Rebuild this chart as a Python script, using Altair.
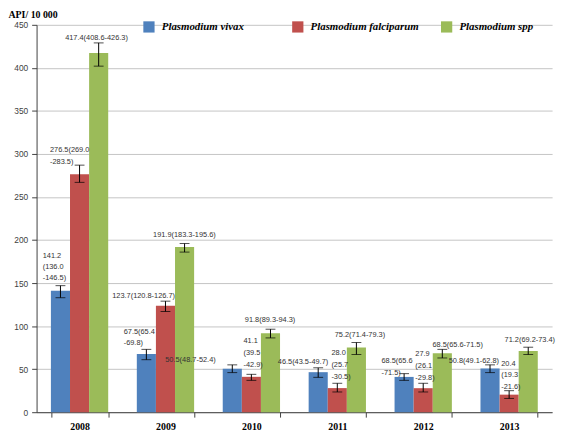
import altair as alt
import pandas as pd

years = ["2008", "2009", "2010", "2011", "2012", "2013"]
series = ["Plasmodium vivax", "Plasmodium falciparum", "Plasmodium spp"]
colors = ["#4F81BD", "#C0504D", "#9BBB59"]

vivax = [141.2, 67.5, 50.5, 46.5, 41.0, 50.8]
falciparum = [276.5, 123.7, 41.1, 28.0, 27.9, 20.4]
spp = [417.4, 191.9, 91.8, 75.2, 68.5, 71.2]

vivax_lo = [133.0, 61.0, 46.0, 40.5, 37.0, 46.0]
vivax_hi = [147.0, 73.0, 55.0, 51.6, 44.8, 55.0]
falciparum_lo = [267.0, 117.0, 37.0, 23.5, 23.5, 16.0]
falciparum_hi = [287.0, 129.0, 44.0, 33.6, 33.6, 25.0]
spp_lo = [402.0, 186.0, 86.3, 67.0, 63.0, 67.0]
spp_hi = [429.0, 196.0, 96.4, 81.0, 73.0, 75.5]

vivax_labels = ["141.2\n(136.0\n-146.5)", "67.5(65.4\n-69.8)", "50.5(48.7-52.4)",
                "46.5(43.5-49.7)", "68.5(65.6\n-71.5)", "50.8(49.1-62.8)"]
falciparum_labels = ["276.5(269.0\n-283.5)", "123.7(120.8-126.7)", "41.1\n(39.5\n-42.9)",
                     "28.0\n(25.7\n-30.5)", "27.9\n(26.1\n-29.8)", "20.4\n(19.3\n-21.6)"]
spp_labels = ["417.4(408.6-426.3)", "191.9(183.3-195.6)", "91.8(89.3-94.3)",
              "75.2(71.4-79.3)", "68.5(65.6-71.5)", "71.2(69.2-73.4)"]

# label placement (styling): dx from bar centre, dy of first line from error-bar top, line height
vivax_off = [(-18, -31, 11.5), (-23, -18, 11), (-68, -5, 11), (-41, -6, 11), (-23, -13, 12), (-42, -4, 11)]
falciparum_off = [(-30, -16, 12), (-54, -6, 11), (-8, -34, 12), (-6, -31, 12), (-8, -30, 12), (-8, -28, 12)]
spp_off = [(-34, -5, 11), (-32, -9, 11), (-26, -10, 11), (-22, -8, 11), (-10, -5, 11), (-24, -8, 11)]

rows = []
for s, vals, los, his, labs, offs in [
    (series[0], vivax, vivax_lo, vivax_hi, vivax_labels, vivax_off),
    (series[1], falciparum, falciparum_lo, falciparum_hi, falciparum_labels, falciparum_off),
    (series[2], spp, spp_lo, spp_hi, spp_labels, spp_off),
]:
    for i, yr in enumerate(years):
        rows.append(dict(year=yr, series=s, value=vals[i], lo=los[i], hi=his[i],
                         label=labs[i], dx=offs[i][0], dy=offs[i][1], lh=offs[i][2]))
df = pd.DataFrame(rows)

FONT_SANS = "Liberation Sans"

x_enc = alt.X("year:N", sort=years,
              scale=alt.Scale(paddingInner=0.333, paddingOuter=0.1667),
              axis=alt.Axis(title=None, labelAngle=0, labelFont="Liberation Serif",
                            labelFontWeight="bold", labelFontSize=10, labelColor="black",
                            tickBand="extent", tickSize=5, tickColor="#404040",
                            domainColor="#404040", labelPadding=5))
xo_enc = alt.XOffset("series:N", sort=series, scale=alt.Scale(paddingInner=0, paddingOuter=0))
y_scale = alt.Scale(domain=[0, 450], nice=False)

base = alt.Chart(df)

bars = base.mark_bar().encode(
    x=x_enc,
    xOffset=xo_enc,
    y=alt.Y("value:Q", scale=y_scale,
            axis=alt.Axis(values=list(range(0, 451, 50)), title="API/ 10 000",
                          titleAngle=0, titleAlign="left", titleBaseline="alphabetic",
                          titleX=-29, titleY=-7, titleFont="Liberation Serif",
                          titleFontWeight="bold", titleFontSize=10, titleColor="black",
                          labelFont=FONT_SANS, labelFontSize=8.5, labelColor="#404040",
                          tickSize=5, tickColor="#404040", domainColor="#404040",
                          gridColor="#c4c4c4", labelPadding=4)),
    color=alt.Color("series:N", sort=series,
                    scale=alt.Scale(domain=series, range=colors),
                    legend=alt.Legend(orient="none", legendX=108, legendY=-4,
                                      direction="horizontal", title=None,
                                      symbolType="square", symbolSize=130,
                                      symbolStrokeWidth=0, labelFont="Liberation Serif",
                                      labelFontStyle="italic", labelFontWeight="bold",
                                      labelFontSize=11, labelColor="black",
                                      columnPadding=22, labelOffset=7, gridAlign="all",
                                      padding=0)),
)

rules = base.mark_rule(color="black", strokeWidth=1).encode(
    x=x_enc, xOffset=xo_enc, y=alt.Y("lo:Q", scale=y_scale), y2="hi:Q")
cap_hi = base.mark_tick(color="black", thickness=1, size=10, orient="horizontal").encode(
    x=x_enc, xOffset=xo_enc, y=alt.Y("hi:Q", scale=y_scale))
cap_lo = base.mark_tick(color="black", thickness=1, size=10, orient="horizontal").encode(
    x=x_enc, xOffset=xo_enc, y=alt.Y("lo:Q", scale=y_scale))

layers = [bars, rules, cap_hi, cap_lo]
for r in rows:
    layers.append(
        base.transform_filter(
            (alt.datum.series == r["series"]) & (alt.datum.year == r["year"])
        ).mark_text(align="left", baseline="top", dx=r["dx"], dy=r["dy"] - 3.5,
                    lineBreak="\n", lineHeight=r["lh"], font=FONT_SANS,
                    fontSize=7.5, color="#333333").encode(
            x=x_enc, xOffset=xo_enc, y=alt.Y("hi:Q", scale=y_scale), text="label:N")
    )

chart = alt.layer(*layers).properties(
    width=523, height=393,
    autosize=alt.AutoSizeParams(type="none"),
    padding={"left": 29, "top": 14, "right": 7, "bottom": 16},
).configure_view(stroke=None)

chart.save("out.html", embed_options={"renderer": "svg", "actions": False})
